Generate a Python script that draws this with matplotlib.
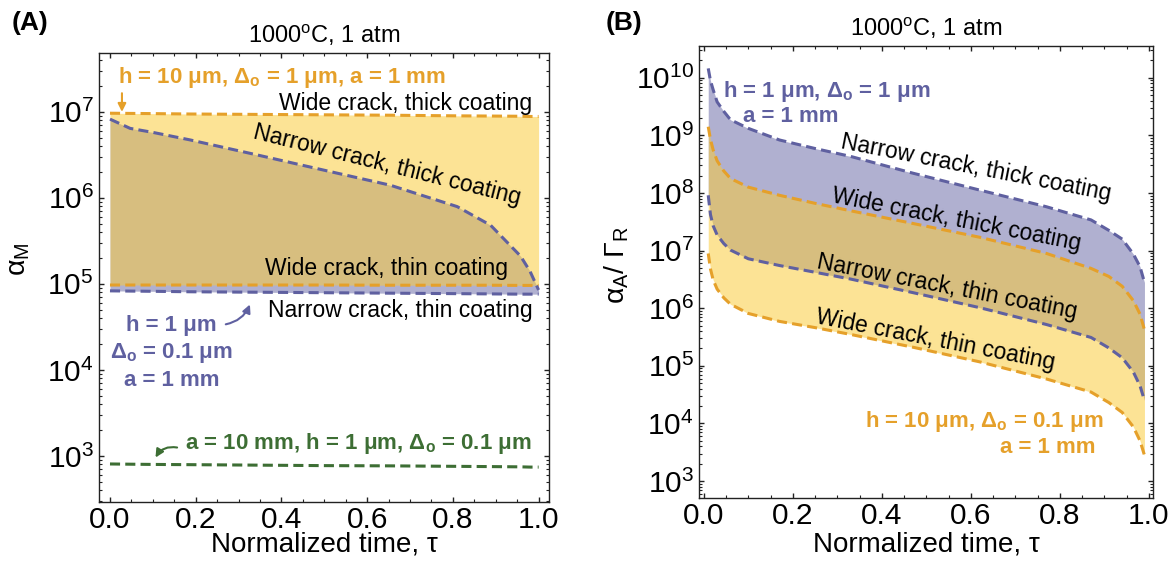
import numpy as np
import matplotlib
matplotlib.use('Agg')
import matplotlib.pyplot as plt
from matplotlib.ticker import MultipleLocator, LogLocator, NullFormatter

plt.rcParams['font.family'] = ['Liberation Sans', 'DejaVu Sans']
plt.rcParams['mathtext.fontset'] = 'custom'
plt.rcParams['mathtext.rm'] = 'Liberation Sans'
plt.rcParams['mathtext.it'] = 'Liberation Sans:italic'
plt.rcParams['mathtext.bf'] = 'Liberation Sans:bold'

ORANGE = '#E5A02A'
PURPLE = '#5F60A0'
GREEN = '#3D6E34'
YELLOW = '#FBCB35'
LAVENDER = '#B0B0D0'

# ---- panel A: alpha_M vs normalized time
tau_a = [0.0, 0.047, 0.1, 0.187, 0.343, 0.498, 0.654, 0.81, 0.888, 0.958, 0.98, 1.0]
wide_thick_a = [9.6e6, 9.55e6, 9.5e6, 9.4e6, 9.3e6, 9.2e6, 9.1e6, 8.95e6, 8.9e6, 8.85e6, 8.8e6, 8.8e6]
narrow_thick_a = [8.2e6, 6.4e6, 5.75e6, 4.7e6, 3.15e6, 2.1e6, 1.4e6, 7.9e5, 4.8e5, 2.1e5, 1.4e5, 8.5e4]
wide_thin_a = [9.7e4, 9.7e4, 9.7e4, 9.7e4, 9.7e4, 9.7e4, 9.65e4, 9.65e4, 9.65e4, 9.6e4, 9.6e4, 9.6e4]
narrow_thin_a = [8.3e4, 8.25e4, 8.2e4, 8.1e4, 8.0e4, 7.9e4, 7.8e4, 7.7e4, 7.65e4, 7.6e4, 7.6e4, 7.6e4]
long_crack_a = [8.1e2, 8.05e2, 8.0e2, 7.95e2, 7.85e2, 7.75e2, 7.7e2, 7.6e2, 7.55e2, 7.5e2, 7.45e2, 7.45e2]

# ---- panel B: alpha_A / Gamma_R vs normalized time
tau_b = [0.01, 0.015, 0.021, 0.03, 0.045, 0.06, 0.1, 0.17, 0.25, 0.33, 0.47, 0.62,
         0.77, 0.87, 0.91, 0.94, 0.965, 0.98, 0.99]
narrow_thick_b = [1.45e10, 8.9e9, 6.2e9, 3.8e9, 2.6e9, 1.86e9, 1.32e9, 8.3e8, 5.9e8, 4.3e8,
                  2.2e8, 1.12e8, 5.75e7, 3.4e7, 2.24e7, 1.58e7, 8.7e6, 5.25e6, 2.8e6]
wide_thick_b = [1.41e9, 8.5e8, 5.6e8, 3.6e8, 2.4e8, 1.78e8, 1.26e8, 9.1e7, 6.6e7, 4.9e7,
                2.95e7, 1.7e7, 8.9e6, 4.9e6, 3.55e6, 2.4e6, 1.35e6, 7.9e5, 4.2e5]
narrow_thin_b = [9.1e7, 4.2e7, 2.7e7, 1.86e7, 1.32e7, 1.02e7, 7.2e6, 5.5e6, 4.2e6, 3.2e6,
                 1.86e6, 1.02e6, 5.2e5, 3.1e5, 2.04e5, 1.38e5, 7.8e4, 4.5e4, 2.5e4]
wide_thin_b = [8.9e6, 4.8e6, 3.1e6, 2.14e6, 1.51e6, 1.17e6, 8.1e5, 5.9e5, 4.6e5, 3.5e5,
               2.1e5, 1.17e5, 5.9e4, 3.5e4, 2.3e4, 1.55e4, 8.7e3, 5.0e3, 2.8e3]

LW = 2.2
DASH = (3.3, 1.7)
TXT = 16.5
BTXT = 16
TICK = 21.5
LABEL = 20


def style_axes(ax, ylim):
    ax.set_yscale('log')
    ax.set_ylim(*ylim)
    ax.xaxis.set_major_locator(MultipleLocator(0.2))
    ax.xaxis.set_minor_locator(MultipleLocator(0.05))
    ax.xaxis.set_major_formatter(plt.FuncFormatter(lambda v, p: f'{v:.1f}'))
    ax.yaxis.set_major_locator(LogLocator(base=10, numticks=30))
    ax.yaxis.set_minor_locator(LogLocator(base=10, subs=np.arange(2, 10), numticks=30))
    ax.yaxis.set_minor_formatter(NullFormatter())
    ax.tick_params(which='both', direction='in', top=True, right=True, labelsize=TICK,
                   color='#222222')
    ax.tick_params(which='major', length=3.5, width=1.0, pad=4)
    ax.tick_params(axis='x', which='major', pad=3)
    ax.tick_params(which='minor', length=2.0, width=0.8)
    for s in ax.spines.values():
        s.set_linewidth(1.0)
        s.set_color('#222222')
    ax.set_xlabel('Normalized time, τ', fontsize=LABEL, va='baseline')
    ax.set_title('1000$^{\\mathrm{o}}$C, 1 atm', fontsize=17, pad=7)


fig = plt.figure(figsize=(11.72, 5.65), dpi=100)
axA = fig.add_axes([0.0847, 0.112, 0.384, 0.7947])
axB = fig.add_axes([0.5967, 0.118, 0.3874, 0.8006])

# panel A
axA.fill_between(tau_a, narrow_thin_a, narrow_thick_a, color=LAVENDER, lw=0, zorder=1)
axA.fill_between(tau_a, wide_thin_a, wide_thick_a, color=YELLOW, alpha=0.52, lw=0, zorder=2)
for y, c in [(wide_thick_a, ORANGE), (wide_thin_a, ORANGE), (narrow_thick_a, PURPLE),
             (narrow_thin_a, PURPLE), (long_crack_a, GREEN)]:
    axA.plot(tau_a, y, color=c, lw=LW, dashes=DASH, dash_capstyle='butt', zorder=3)
axA.set_xlim(-0.025, 1.025)
style_axes(axA, (10 ** 2.47, 10 ** 7.685))
axA.set_ylabel('α$_\\mathrm{M}$', fontsize=LABEL + 0.5)
axA.yaxis.set_label_coords(-0.15, 0.54)
axA.xaxis.set_label_coords(0.5, -0.11)

tA = axA.transAxes
axA.text(0.042, 0.932, 'h = 10 μm, Δ$_\\mathbf{o}$ = 1 μm, a = 1 mm', color=ORANGE,
         fontsize=BTXT, fontweight='bold', transform=tA, ha='left', va='baseline')
axA.annotate('', xy=(0.0504, 0.862), xytext=(0.0504, 0.916), xycoords='axes fraction',
             arrowprops=dict(arrowstyle='-|>', color=ORANGE, lw=1.5, mutation_scale=12))
axA.text(0.962, 0.873, 'Wide crack, thick coating', fontsize=TXT, transform=tA,
         ha='right', va='baseline')
axA.text(0.639, 0.75, 'Narrow crack, thick coating', fontsize=TXT, transform=tA,
         ha='center', va='center', rotation=-14, rotation_mode='anchor')
axA.text(0.908, 0.505, 'Wide crack, thin coating', fontsize=TXT, transform=tA,
         ha='right', va='baseline')
axA.text(0.962, 0.411, 'Narrow crack, thin coating', fontsize=TXT, transform=tA,
         ha='right', va='baseline')
for txt, fy in [('h = 1 μm', 0.380), ('Δ$_\\mathbf{o}$ = 0.1 μm', 0.320), ('a = 1 mm', 0.258)]:
    axA.text(0.16, fy, txt, color=PURPLE, fontsize=BTXT, fontweight='bold',
             transform=tA, ha='center', va='baseline')
axA.annotate('', xy=(0.337, 0.445), xytext=(0.275, 0.394), xycoords='axes fraction',
             arrowprops=dict(arrowstyle='-|>', color=PURPLE, lw=1.5, mutation_scale=12,
                             connectionstyle='arc3,rad=0.3'))
axA.text(0.19, 0.117, 'a = 10 mm, h = 1 μm, Δ$_\\mathbf{o}$ = 0.1 μm', color=GREEN,
         fontsize=BTXT, fontweight='bold', transform=tA, ha='left', va='baseline')
axA.annotate('', xy=(0.122, 0.093), xytext=(0.179, 0.1195), xycoords='axes fraction',
             arrowprops=dict(arrowstyle='-|>', color=GREEN, lw=1.5, mutation_scale=12,
                             connectionstyle='arc3,rad=0.4'))

# panel B
axB.fill_between(tau_b, narrow_thin_b, narrow_thick_b, color=LAVENDER, lw=0, zorder=1)
axB.fill_between(tau_b, wide_thin_b, wide_thick_b, color=YELLOW, alpha=0.52, lw=0, zorder=2)
for y, c in [(narrow_thick_b, PURPLE), (wide_thick_b, ORANGE), (narrow_thin_b, PURPLE),
             (wide_thin_b, ORANGE)]:
    axB.plot(tau_b, y, color=c, lw=LW, dashes=DASH, dash_capstyle='butt', zorder=3)
axB.set_xlim(-0.01, 1.01)
style_axes(axB, (10 ** 2.70, 10 ** 10.55))
axB.set_ylabel('α$_\\mathrm{A}$/ Γ$_\\mathrm{R}$', fontsize=LABEL + 0.5)
axB.yaxis.set_label_coords(-0.15, 0.516)
axB.xaxis.set_label_coords(0.5, -0.117)

tB = axB.transAxes
axB.text(0.052, 0.888, 'h = 1 μm, Δ$_\\mathbf{o}$ = 1 μm', color=PURPLE, fontsize=BTXT,
         fontweight='bold', transform=tB, ha='left', va='baseline')
axB.text(0.096, 0.833, 'a = 1 mm', color=PURPLE, fontsize=BTXT, fontweight='bold',
         transform=tB, ha='left', va='baseline')
for txt, fx, fy in [('Narrow crack, thick coating', 0.609, 0.730),
                    ('Wide crack, thick coating', 0.567, 0.615),
                    ('Narrow crack, thin coating', 0.546, 0.467),
                    ('Wide crack, thin coating', 0.521, 0.350)]:
    axB.text(fx, fy, txt, fontsize=TXT, transform=tB, ha='center', va='center',
             rotation=-11, rotation_mode='anchor')
axB.text(0.891, 0.158, 'h = 10 μm, Δ$_\\mathbf{o}$ = 0.1 μm', color=ORANGE, fontsize=BTXT,
         fontweight='bold', transform=tB, ha='right', va='baseline')
axB.text(0.872, 0.100, 'a = 1 mm', color=ORANGE, fontsize=BTXT, fontweight='bold',
         transform=tB, ha='right', va='baseline')

fig.text(12 / 1172, 1 - 11 / 565, '(A)', fontsize=19, fontweight='bold', va='top')
fig.text(606 / 1172, 1 - 11 / 565, '(B)', fontsize=19, fontweight='bold', va='top')

fig.savefig('out.png', dpi=100)
